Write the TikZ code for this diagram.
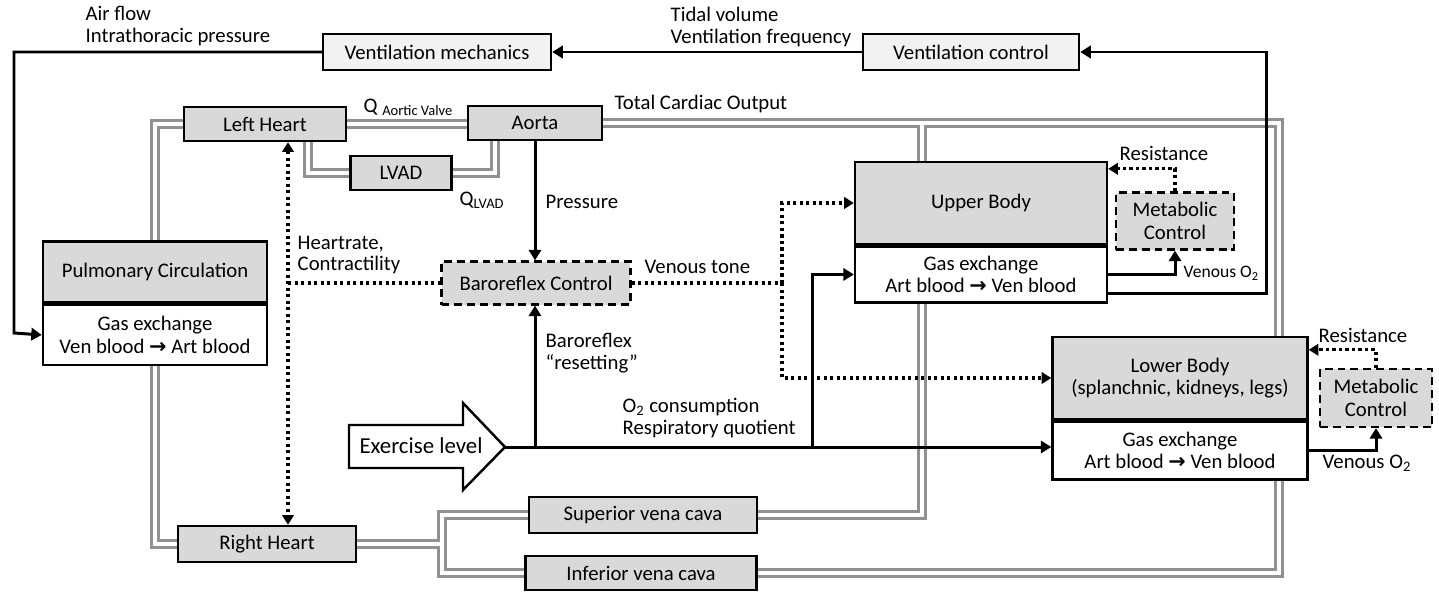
\documentclass[tikz,border=0pt]{standalone}
\usepackage{fontspec}
\setmainfont{Carlito}
\newfontfamily\arrowfont{DejaVu Sans}
\usepackage{tikz}
\usetikzlibrary{positioning, calc, arrows.meta, backgrounds}
\definecolor{boxgray}{RGB}{217,217,217}
\definecolor{ventgray}{RGB}{242,242,242}
\definecolor{vesselgray}{RGB}{145,145,145}
\newcommand{\toarr}{{\arrowfont\bfseries →}}
\tikzset{main node/.style={rectangle, draw, line width=1.4pt, fill=boxgray, inner sep=0pt, align=center, font=\fontsize{11.8}{13}\selectfont},
  vent node/.style={main node, fill=ventgray},
  gas node/.style={main node, fill=white},
  ctrl node/.style={main node, dash pattern=on 4.5pt off 2.8pt, line width=1.3pt},
  label node/.style={inner sep=0pt, anchor=west, align=left, font=\fontsize{11.8}{12.5}\selectfont},
  flow/.style={line width=1.7pt, -{Triangle[length=6pt,width=7pt]}},
  signal/.style={line width=1.8pt, dash pattern=on 1.8pt off 1.9pt, -{Triangle[length=5.5pt,width=6.5pt]}},
}

\begin{document}
\begin{tikzpicture}[-, thick, x=0.02cm, y=-0.02cm]
        \useasboundingbox (0,0) rectangle (1439,592);
        % Ventilation
        \node[vent node, minimum width=4.56cm, minimum height=0.72cm] (vm) at (437,52) {Ventilation mechanics};
        \node[vent node, minimum width=4.32cm, minimum height=0.72cm] (vc) at (971,52) {Ventilation control};
        % Heart and vessels
        \node[main node, minimum width=3.24cm, minimum height=0.68cm] (lh) at (265,124) {Left Heart};
        \node[main node, minimum width=2.68cm, minimum height=0.68cm] (ao) at (535,123) {Aorta};
        \node[main node, minimum width=2.02cm, minimum height=0.68cm] (lvad) at (401,173) {LVAD};
        \node[main node, minimum width=3.56cm, minimum height=0.72cm] (rh) at (267,544) {Right Heart};
        \node[main node, minimum width=4.56cm, minimum height=0.72cm] (svc) at (643,515) {Superior vena cava};
        \node[main node, minimum width=4.62cm, minimum height=0.68cm] (ivc) at (641,573) {Inferior vena cava};
        % Circulations
        \node[main node, minimum width=4.48cm, minimum height=1.22cm] (pc) at (155,272) {Pulmonary Circulation};
        \node[gas node, minimum width=4.48cm, minimum height=1.2cm, below=0pt of pc] (pg) {Gas exchange\\Ven blood \toarr{} Art blood};
        \node[main node, minimum width=5.04cm, minimum height=1.64cm] (ub) at (981,203) {Upper Body};
        \node[gas node, minimum width=5.04cm, minimum height=1.12cm, below=0pt of ub] (ubg) {Gas exchange\\Art blood \toarr{} Ven blood};
        \node[main node, minimum width=5.1cm, minimum height=1.64cm] (lb) at (1180,378) {Lower Body\\(splanchnic, kidneys, legs)};
        \node[gas node, minimum width=5.1cm, minimum height=1.16cm, below=0pt of lb] (lbg) {Gas exchange\\Art blood \toarr{} Ven blood};
        % Controls
        \node[ctrl node, minimum width=3.78cm, minimum height=0.86cm] (bc) at (536,283) {Baroreflex Control};
        \node[ctrl node, minimum width=2.36cm, minimum height=1.14cm] (mc1) at (1175,221) {Metabolic\\Control};
        \node[ctrl node, minimum width=2.24cm, minimum height=1.16cm] (mc2) at (1376,398) {Metabolic\\Control};
        % Exercise
        \draw[line width=1.4pt, fill=white] (349,425) -- (463,425) -- (463,403) -- (505,447) -- (463,490) -- (463,468) -- (349,468) -- cycle;
        \node[font=\fontsize{13}{15}\selectfont] (ex) at (421,446) {Exercise level};
        \coordinate (extip) at (505,447);
        % Junctions
        \coordinate (hr) at (288,283);
        \coordinate (vt) at (782,283);
        \coordinate (br) at (535,447);
        \coordinate (o2) at (812,447);
        \coordinate (af) at (14,333);
        \coordinate (vo) at (1266,52);
        \coordinate (tr) at (1279,123);
        \coordinate (ubin) at (922,123);
        \coordinate (vj) at (442,544);
        % Flows
        \draw[flow] (vc.west) -- (vm.east);
        \draw[flow] (vm.west) -| (af) -- (pg.west);
        \draw[flow] ($(ubg.south east)+(0,-10)$) -| (vo) -- (vc.east);
        \draw[flow] (ubg.east) -| (mc1.south);
        \draw[flow] (lbg.east) -| (mc2.south);
        \draw[flow] (ao.south) -- (ao.south |- bc.north);
        \draw[flow] (br) -- (br |- bc.south);
        \draw[flow] (extip) -- (extip -| lbg.west);
        \draw[flow] (o2) |- (ubg.west);
        % Signals
        \draw[signal] (mc1.north) |- ($(ub.north east)+(0,8)$);
        \draw[signal] (mc2.north) |- ($(lb.north east)+(0,14)$);
        \draw[signal, -] (bc.east) -- (vt);
        \draw[signal] (vt) |- (ub.west);
        \draw[signal] (vt) |- (lb.west);
        \draw[signal, -] (hr) -- (bc.west);
        \draw[signal, {Triangle[length=5.5pt,width=6.5pt]}-{Triangle[length=5.5pt,width=6.5pt]}] (hr |- lh.south) -- (hr |- rh.north);
        % Labels
        \node[label node] (l1) at (85,26) {Air flow\\Intrathoracic pressure};
        \node[label node] (l2) at (670,27) {Tidal volume\\Ventilation frequency};
        \node[label node] (l3) at (363,107) {Q \textsubscript{Aortic Valve}};
        \node[label node] (l4) at (614,104) {Total Cardiac Output};
        \node[label node] (l5) at (459,200) {Q\textsubscript{LVAD}};
        \node[label node] (l6) at (545,202) {Pressure};
        \node[label node] (l7) at (297,255) {Heartrate,\\Contractility};
        \node[label node] (l8) at (644,267) {Venous tone};
        \node[label node] (l9) at (545,353) {Baroreflex\\“resetting”};
        \node[label node] (l10) at (622,418) {O\textsubscript{2} consumption\\Respiratory quotient};
        \node[label node] (l11) at (1119,153) {Resistance};
        \node[label node, font=\fontsize{10}{12}\selectfont] (l12) at (1183,273) {Venous O\textsubscript{2}};
        \node[label node] (l13) at (1318,335) {Resistance};
        \node[label node] (l14) at (1322,463) {Venous O\textsubscript{2}};
        % Vessels
        \begin{scope}[on background layer]
        \foreach \w/\c in {6pt/vesselgray, 2.3pt/white} {
          \draw[line width=\w, color=\c, line join=miter]
            (lh.east) -- (lh.east -| ao.west)
            ($(lh.south east)+(-39,0)$) |- (lvad.west)
            (lvad.east) -| ($(ao.south west)+(28,0)$)
            (ao.east) -- (tr) -- (tr |- lb.north)
            (ubin) -- (ubin |- ub.north)
            (ubin |- ubg.south) |- (svc.east)
            (tr |- lbg.south) |- (ivc.east)
            (rh.east) -- (vj)
            (svc.west) -| (vj) |- (ivc.west)
            (rh.west) -| (pc.center) |- (lh.west);
        }
        \end{scope}
\end{tikzpicture}
\end{document}
